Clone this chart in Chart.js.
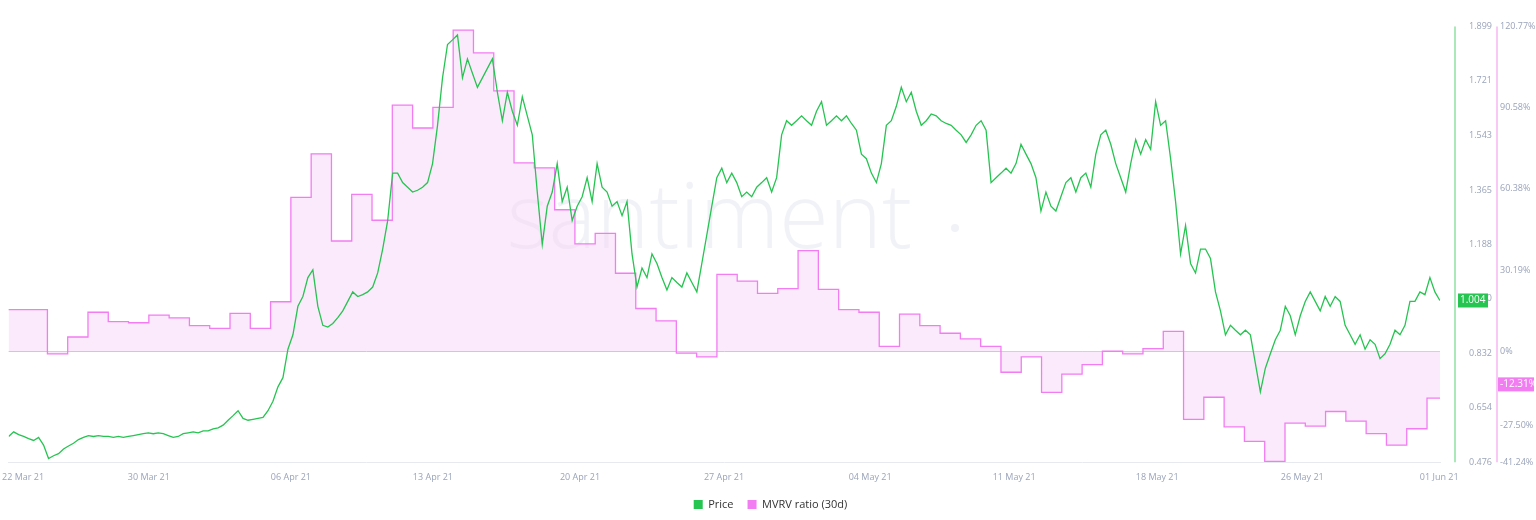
<!DOCTYPE html>
<html><head><meta charset="utf-8">
<script src="https://cdn.jsdelivr.net/npm/chart.js@4/dist/chart.umd.min.js"></script>
<style>html,body{margin:0;padding:0;background:#fff}#wrap{width:1536px;height:520px}</style>
</head><body><div id="wrap"><canvas id="c"></canvas></div>
<script>
// x values are days relative to 06 Apr 21
const tickDays = [-13.2,-7,0,7,14.25,21.35,28.55,35.65,42.7,49.85,56.6];
const tickLabels = ["22 Mar 21","30 Mar 21","06 Apr 21","13 Apr 21","20 Apr 21","27 Apr 21","04 May 21","11 May 21","18 May 21","26 May 21","01 Jun 21"];
const priceTicks = [0.476,0.654,0.832,1.010,1.188,1.365,1.543,1.721,1.899];
const mvrvTicks = [-41.24,-27.50,-13.75,0,30.19,60.38,90.58,120.77];
const priceStart = -13.91, priceStep = 0.2458;
const priceValues = [
.560,.575,.566,.560,.553,.547,.557,.532,.488,.497,.504,.519,.529,.538,.550,.557,.563,.560,.563,.560,
.560,.557,.560,.557,.560,.563,.566,.569,.572,.569,.572,.569,.563,.557,.560,.569,.572,.575,.572,.578,
.578,.585,.588,.597,.613,.628,.644,.619,.613,.616,.619,.622,.644,.675,.722,.752,.845,.892,.985,1.017,
1.079,1.104,.985,.923,.917,.929,.948,.970,1.001,1.032,1.017,1.023,1.032,1.048,1.094,1.172,1.265,1.420,1.420,1.389,
1.374,1.358,1.364,1.374,1.389,1.451,1.576,1.731,1.840,1.855,1.871,1.731,1.793,1.746,1.700,1.731,1.762,1.793,1.684,1.591,
1.684,1.622,1.576,1.669,1.607,1.545,1.358,1.187,1.312,1.358,1.451,1.327,1.374,1.265,1.312,1.343,1.405,1.327,1.451,1.374,
1.358,1.312,1.327,1.281,1.327,1.156,1.048,1.110,1.079,1.156,1.125,1.079,1.038,1.079,1.063,1.048,1.094,1.063,1.032,1.125,
1.218,1.312,1.405,1.436,1.389,1.420,1.389,1.343,1.358,1.343,1.374,1.389,1.405,1.358,1.405,1.545,1.591,1.576,1.591,1.607,
1.591,1.576,1.622,1.653,1.576,1.591,1.607,1.591,1.607,1.582,1.560,1.482,1.467,1.420,1.389,1.451,1.576,1.591,1.638,1.700,
1.653,1.684,1.622,1.576,1.591,1.613,1.607,1.591,1.582,1.576,1.560,1.545,1.520,1.545,1.576,1.591,1.560,1.389,1.405,1.420,
1.436,1.420,1.451,1.514,1.482,1.451,1.405,1.296,1.358,1.312,1.296,1.343,1.389,1.405,1.358,1.405,1.420,1.374,1.482,1.545,
1.560,1.514,1.451,1.405,1.358,1.451,1.529,1.482,1.529,1.498,1.653,1.576,1.591,1.467,1.327,1.156,1.249,1.125,1.094,1.172,
1.172,1.141,1.032,.970,.892,.923,.907,.892,.907,.892,.799,.706,.783,.830,.876,.907,.985,.954,.892,.954,
1.001,1.032,1.001,.970,1.017,.985,1.017,1.001,.923,.892,.861,.892,.845,.876,.861,.814,.830,.861,.907,.892,
.923,1.001,1.001,1.032,1.023,1.079,1.032,1.004];
const mvrvStartDay = -14;
const mvrvValues = [15.5,-1,5.3,14.5,11,10.6,13.4,12.4,9.5,8.5,14.1,8.5,18.4,57.2,73.4,41,58.3,48.7,91.5,83,
90.7,119.4,110.9,96.8,70,68.2,52.6,39.9,43.8,29,15.9,11.3,-0.7,-2.1,28.6,26.1,21.5,23.3,37.4,23,
15.5,14.5,1.8,13.8,9.5,6.7,4.6,1.8,-7.8,-2.1,-15.3,-8.5,-5,0,-1,1,7.4,-25.3,-17.1,-28.1,
-33.5,-40.9,-26.7,-27.8,-22.4,-26,-30.6,-34.9,-28.8,-17.4,-12.31];

const GREEN='#26c451', PINK='#f27cf2', AXC='#9aa3ba';
const priceData = priceValues.map((v,i)=>({x:priceStart+i*priceStep,y:v}));
// each daily value holds from its day start to the next day
const mvrvData = [{x:mvrvStartDay,y:mvrvValues[0]}].concat(mvrvValues.map((v,i)=>({x:mvrvStartDay+i+1,y:v})));

const extras = {
  id:'extras',
  beforeDatasetsDraw(ch){
    const c=ch.ctx,a=ch.chartArea;
    c.save();c.font='300 90px "Open Sans", sans-serif';c.fillStyle='rgba(200,205,222,0.25)';
    c.textAlign='center';c.textBaseline='middle';c.fillText('santiment',(a.left+a.right)/2-15,222);
    c.beginPath();c.arc(955,228,4,0,7);c.fill();c.restore();
  },
  afterDraw(ch){
    const c=ch.ctx,a=ch.chartArea,yp=ch.scales.y,ym=ch.scales.y2;
    c.save();
    c.lineWidth=1.5;
    c.strokeStyle='#8ee09f';c.beginPath();c.moveTo(yp.left+15,a.top);c.lineTo(yp.left+15,a.bottom);c.stroke();
    c.strokeStyle='#f7b6f5';c.beginPath();c.moveTo(ym.left+1,a.top);c.lineTo(ym.left+1,a.bottom);c.stroke();
    c.font='10px "Open Sans", sans-serif';c.textBaseline='middle';
    const pv=priceValues[priceValues.length-1], py=yp.getPixelForValue(pv);
    c.fillStyle=GREEN;c.fillRect(yp.left+18,py-7,30,14);
    c.fillStyle='#fff';c.textAlign='left';c.fillText(pv.toFixed(3),yp.left+20,py);
    const mv=mvrvValues[mvrvValues.length-1], my=ym.getPixelForValue(mv);
    c.fillStyle=PINK;c.fillRect(ym.left+2,my-7,36,14);
    c.fillStyle='#fff';c.fillText(mv.toFixed(2)+'%',ym.left+4,my);
    c.restore();
  }
};

new Chart(document.getElementById('c'),{
  type:'line',
  data:{datasets:[
    {label:'Price',data:priceData,borderColor:GREEN,backgroundColor:GREEN,borderWidth:1.3,pointRadius:0,tension:0,yAxisID:'y',fill:false,order:0},
    {label:'MVRV ratio (30d)',data:mvrvData,borderColor:PINK,backgroundColor:'rgba(248,214,248,0.5)',borderWidth:1.3,pointRadius:0,stepped:'before',yAxisID:'y2',fill:'origin',order:1}
  ]},
  options:{
    responsive:true,maintainAspectRatio:false,animation:false,
    layout:{padding:{top:-18,left:5,right:0,bottom:0}},
    plugins:{tooltip:{enabled:false},
      legend:{position:'bottom',labels:{boxWidth:9,boxHeight:9,color:'#333',font:{size:11,family:'"Open Sans", sans-serif'},padding:14,
        generateLabels(ch){return ch.data.datasets.map((d,i)=>({text:d.label,fillStyle:d.borderColor,strokeStyle:d.borderColor,lineWidth:0,datasetIndex:i,hidden:false,fontColor:'#333'}));}}}},
    scales:{
      x:{type:'linear',min:-13.91,max:56.64,
        grid:{display:false},border:{color:'#e6e9f0'},
        afterBuildTicks(s){s.ticks=tickDays.map(v=>({value:v}));},
        ticks:{autoSkip:false,maxRotation:0,color:AXC,font:{size:9,family:'"Open Sans", sans-serif'},padding:2,
          callback:(v,i)=>tickLabels[i]}},
      y:{position:'right',min:0.476,max:1.899,grid:{display:false},border:{display:false},
        afterBuildTicks(s){s.ticks=priceTicks.map(v=>({value:v}));},
        afterFit(s){s.width=56;},
        ticks:{padding:21,color:AXC,font:{size:9,family:'"Open Sans", sans-serif'},callback:v=>v.toFixed(3)}},
      y2:{position:'right',min:-41.24,max:120.77,border:{display:false},
        grid:{drawOnChartArea:true,drawTicks:false,color:c=>c.tick&&c.tick.value===0?'#f4a8f2':'rgba(0,0,0,0)'},
        afterBuildTicks(s){s.ticks=mvrvTicks.map(v=>({value:v}));},
        afterFit(s){s.width=40;},
        ticks:{padding:4,color:AXC,font:{size:9,family:'"Open Sans", sans-serif'},callback:v=>v===0?'0%':v.toFixed(2)+'%'}}
    }
  },
  plugins:[extras]
});
</script></body></html>
